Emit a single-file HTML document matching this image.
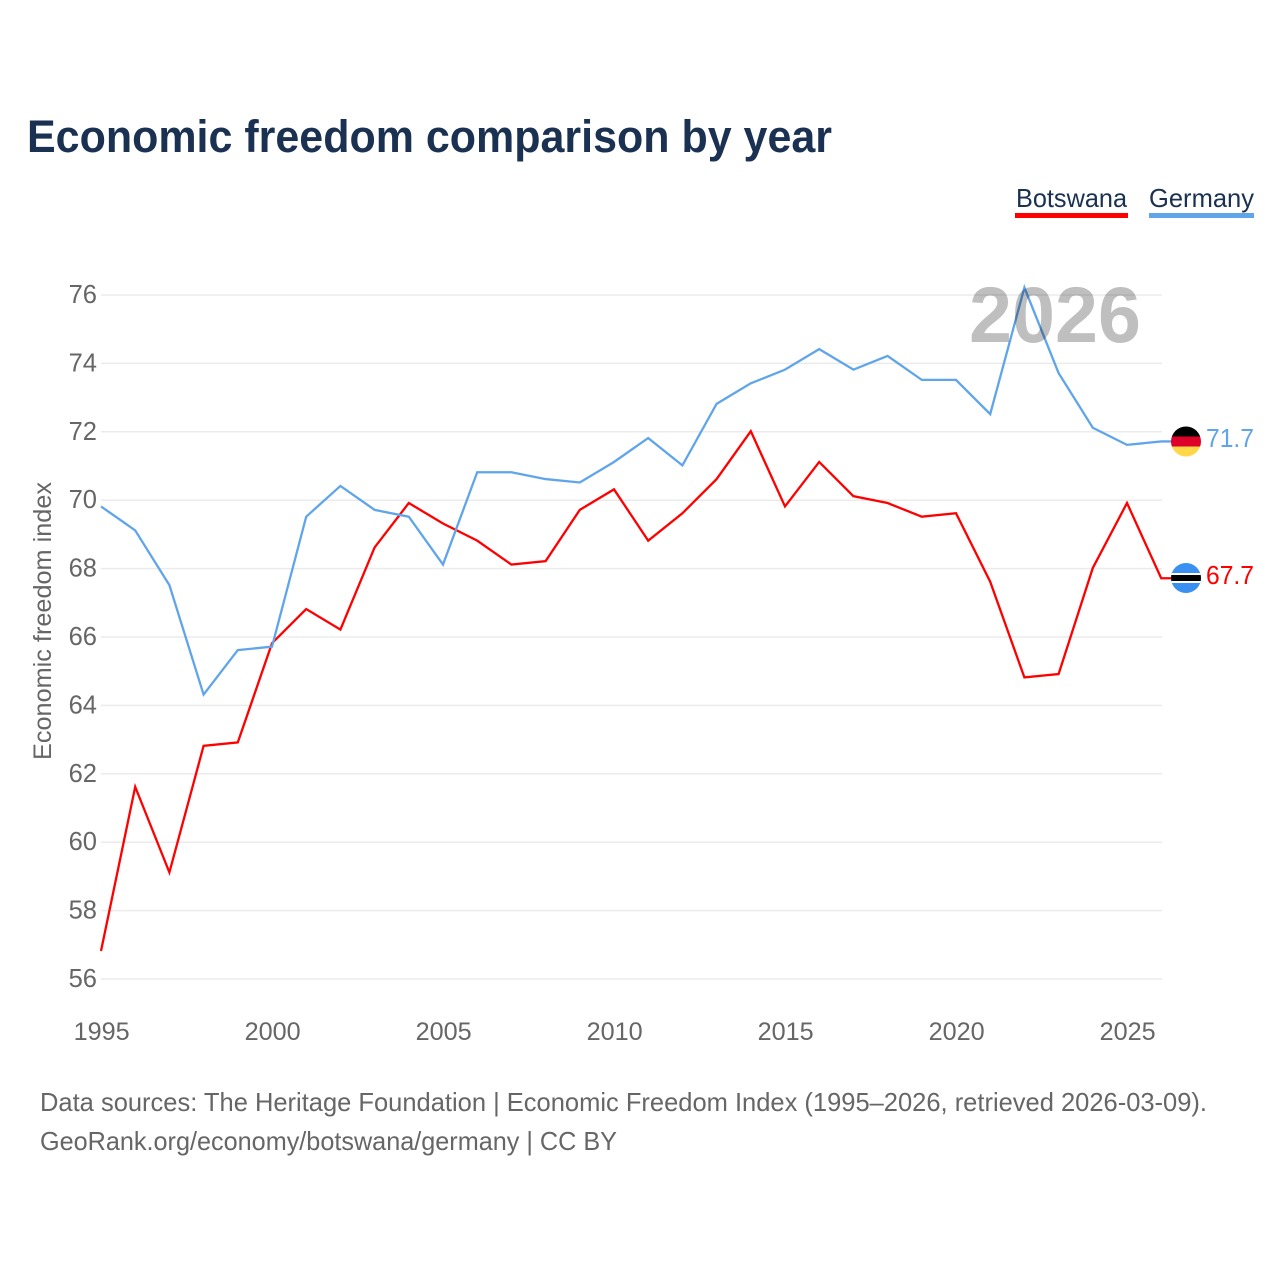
<!DOCTYPE html>
<html lang="en">
<head>
<meta charset="utf-8">
<title>Economic freedom comparison by year</title>
<style>
html,body{margin:0;padding:0;background:#fff;}
svg{display:block;font-family:"Liberation Sans",sans-serif;}
</style>
</head>
<body>
<svg id="chart" width="1280" height="1280" viewBox="0 0 1280 1280" xmlns="http://www.w3.org/2000/svg">
  <rect x="0" y="0" width="1280" height="1280" fill="#fff"/>
  <text x="27" y="152" font-size="45" font-weight="700" fill="#1a3152" textLength="805" lengthAdjust="spacingAndGlyphs">Economic freedom comparison by year</text>

  <g>
    <text x="1016" y="207" font-size="26" fill="#1a3152" textLength="111" lengthAdjust="spacingAndGlyphs">Botswana</text>
    <rect x="1015" y="213" width="113" height="5" fill="#ff0000"/>
  </g>
  <g>
    <text x="1149" y="207" font-size="26" fill="#1a3152" textLength="105" lengthAdjust="spacingAndGlyphs">Germany</text>
    <rect x="1149" y="213" width="105" height="5" fill="#60a5ea"/>
  </g>

  <g id="grid"></g>
  <g id="yticks"></g>
  <g id="xticks"></g>
  <text transform="translate(51,621) rotate(-90)" text-anchor="middle" font-size="25" fill="#666" textLength="278" lengthAdjust="spacingAndGlyphs">Economic freedom index</text>

  <g id="series"></g>

  <text x="969" y="342" font-size="79" font-weight="700" fill="#000" fill-opacity="0.25" textLength="172" lengthAdjust="spacingAndGlyphs">2026</text>

  <defs>
    <clipPath id="flag-clip-germany"><circle id="clip-de" cx="1186" cy="441.5" r="15"/></clipPath>
    <clipPath id="flag-clip-botswana"><circle id="clip-bw" cx="1186" cy="578" r="15"/></clipPath>
  </defs>
  <g clip-path="url(#flag-clip-germany)">
    <rect x="1171" y="426.5" width="30" height="10" fill="#000"/>
    <rect x="1171" y="436.5" width="30" height="10" fill="#dd0029"/>
    <rect x="1171" y="446.5" width="30" height="10" fill="#ffd84a"/>
  </g>
  <g clip-path="url(#flag-clip-botswana)">
    <rect x="1171" y="563" width="30" height="30" fill="#3a90f0"/>
    <rect x="1171" y="573" width="30" height="10" fill="#fff"/>
    <rect x="1171" y="575" width="30" height="6" fill="#000"/>
  </g>
  <text x="1254" y="447" text-anchor="end" font-size="26" fill="#60a5ea" textLength="48" lengthAdjust="spacingAndGlyphs">71.7</text>
  <text x="1254" y="584" text-anchor="end" font-size="26" fill="#ff0000" textLength="48" lengthAdjust="spacingAndGlyphs">67.7</text>

  <text x="40" y="1111" font-size="26" fill="#666" textLength="1167" lengthAdjust="spacingAndGlyphs">Data sources: The Heritage Foundation | Economic Freedom Index (1995–2026, retrieved 2026-03-09).</text>
  <text x="40" y="1150" font-size="26" fill="#666" textLength="577" lengthAdjust="spacingAndGlyphs">GeoRank.org/economy/botswana/germany | CC BY</text>
</svg>
<script>
var years = [1995,1996,1997,1998,1999,2000,2001,2002,2003,2004,2005,2006,2007,2008,2009,2010,2011,2012,2013,2014,2015,2016,2017,2018,2019,2020,2021,2022,2023,2024,2025,2026];
var botswana = [56.8,61.6,59.1,62.8,62.9,65.8,66.8,66.2,68.6,69.9,69.3,68.8,68.1,68.2,69.7,70.3,68.8,69.6,70.6,72.0,69.8,71.1,70.1,69.9,69.5,69.6,67.6,64.8,64.9,68.0,69.9,67.7];
var germany = [69.8,69.1,67.5,64.3,65.6,65.7,69.5,70.4,69.7,69.5,68.1,70.8,70.8,70.6,70.5,71.1,71.8,71.0,72.8,73.4,73.8,74.4,73.8,74.2,73.5,73.5,72.5,76.2,73.7,72.1,71.6,71.7];
var yTickValues = [56,58,60,62,64,66,68,70,72,74,76];
var xTickValues = [1995,2000,2005,2010,2015,2020,2025];

var NS = 'http://www.w3.org/2000/svg';
function xScale(year){ return 101 + (year - 1995) * 34.2; }
function yScale(v){ return 978.4 - (v - 56) * 34.2; }
function gridY(v){ return 979 - (v - 56) * 34.2; }
function make(tag, attrs, parent){
  var el = document.createElementNS(NS, tag);
  for (var k in attrs) el.setAttribute(k, attrs[k]);
  parent.appendChild(el);
  return el;
}
var grid = document.getElementById('grid');
var yt = document.getElementById('yticks');
var xt = document.getElementById('xticks');
var series = document.getElementById('series');

yTickValues.forEach(function(v){
  var line = make('line', {x1:101, x2:1162, y1:gridY(v), y2:gridY(v), stroke:'#ebebeb', 'stroke-width':1.5}, grid);
  
  
  var label = make('text', {x:97, y:gridY(v) + 8, 'text-anchor':'end', 'font-size':25.5, fill:'#666'}, yt);
  
  
  label.textContent = v;
});
xTickValues.forEach(function(y){
  var label = make('text', {x:xScale(y) + 0.6, y:1040, 'text-anchor':'middle', 'font-size':25.2, fill:'#666'}, xt);
  
  
  label.textContent = y;
});
function drawSeries(values, color, name){
  var pts = values.map(function(v, i){ return xScale(years[i]).toFixed(2) + ',' + yScale(v).toFixed(2); });
  var last = yScale(values[values.length - 1]);
  pts.push('1172,' + last.toFixed(2));
  var line = make('polyline', {points:pts.join(' '), fill:'none', stroke:color, 'stroke-width':2.3, 'stroke-linejoin':'miter'}, series);
  
  
}
drawSeries(botswana, '#ff0000', 'botswana');
drawSeries(germany, '#60a5ea', 'germany');
</script>
</body>
</html>
